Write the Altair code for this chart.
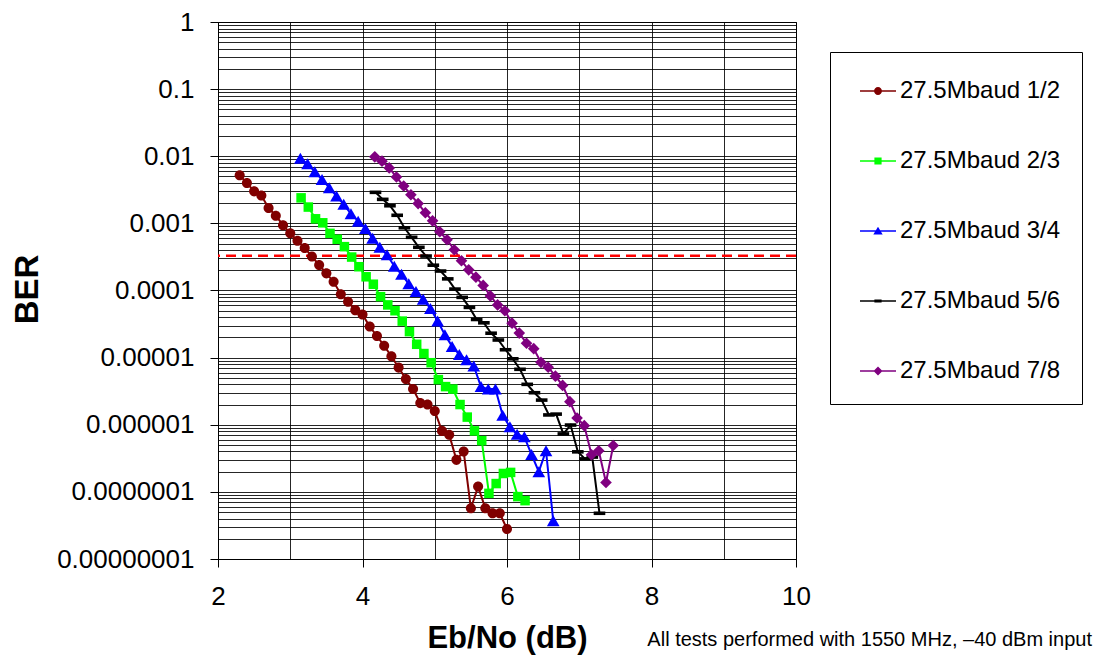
import altair as alt
import pandas as pd

FONT = "Liberation Sans"

series_names = ["27.5Mbaud 1/2", "27.5Mbaud 2/3", "27.5Mbaud 3/4", "27.5Mbaud 5/6", "27.5Mbaud 7/8"]
series_colors = ["#800000", "#00FF00", "#0000FF", "#000000", "#800080"]

ebno_12 = [2.3, 2.4, 2.5, 2.6, 2.7, 2.8, 2.9, 3.0, 3.1, 3.2, 3.3, 3.4, 3.5, 3.6, 3.7, 3.8, 3.9, 4.0, 4.1,
           4.2, 4.3, 4.4, 4.5, 4.6, 4.7, 4.8, 4.9, 5.0, 5.1, 5.2, 5.3, 5.4, 5.5, 5.6, 5.7, 5.8, 5.9, 6.0]
ber_12 = [5.2e-3, 4.0e-3, 3.0e-3, 2.6e-3, 1.7e-3, 1.3e-3, 9.4e-4, 7.1e-4, 5.5e-4, 4.3e-4,
          3.2e-4, 2.4e-4, 1.8e-4, 1.35e-4, 8.8e-5, 6.8e-5, 5.1e-5, 4.4e-5, 2.9e-5, 2.1e-5,
          1.5e-5, 1.05e-5, 7.1e-6, 4.8e-6, 3.4e-6, 2.1e-6, 2.0e-6, 1.6e-6, 8.1e-7, 7.1e-7,
          3.0e-7, 4.0e-7, 5.7e-8, 1.2e-7, 5.7e-8, 4.8e-8, 4.8e-8, 2.8e-8]

ebno_23 = [3.15, 3.25, 3.35, 3.45, 3.55, 3.65, 3.75, 3.85, 3.95, 4.05, 4.15, 4.25, 4.35, 4.45, 4.55, 4.65,
           4.75, 4.85, 4.95, 5.05, 5.15, 5.25, 5.35, 5.45, 5.55, 5.65, 5.75, 5.85, 5.95, 6.05, 6.15, 6.25]
ber_23 = [2.4e-3, 1.75e-3, 1.17e-3, 1.02e-3, 7.1e-4, 5.8e-4, 4.5e-4, 3.15e-4, 2.26e-4, 1.6e-4,
          1.24e-4, 8.1e-5, 6.1e-5, 5.0e-5, 3.5e-5, 2.44e-5, 1.58e-5, 1.15e-5, 8.4e-6, 4.7e-6,
          3.7e-6, 3.4e-6, 2.0e-6, 1.3e-6, 8.1e-7, 5.8e-7, 9.5e-8, 1.33e-7, 1.88e-7, 1.95e-7,
          8.5e-8, 7.4e-8]

ebno_34 = [3.14, 3.24, 3.34, 3.44, 3.54, 3.64, 3.74, 3.84, 3.94, 4.04, 4.14, 4.24, 4.34, 4.44, 4.54, 4.64,
           4.74, 4.84, 4.94, 5.04, 5.14, 5.24, 5.34, 5.44, 5.54, 5.64, 5.74, 5.84, 5.94, 6.04, 6.14, 6.24,
           6.34, 6.44, 6.54, 6.64]
ber_34 = [9.3e-3, 7.7e-3, 5.9e-3, 4.5e-3, 3.4e-3, 2.55e-3, 1.92e-3, 1.39e-3, 1.08e-3, 8.4e-4,
          6.0e-4, 4.4e-4, 3.4e-4, 2.3e-4, 1.74e-4, 1.26e-4, 9.7e-5, 7.4e-5, 5.4e-5, 3.5e-5,
          2.2e-5, 1.47e-5, 1.11e-5, 9.3e-6, 7.5e-6, 3.7e-6, 3.4e-6, 3.4e-6, 1.38e-6, 9.3e-7,
          7.2e-7, 6.6e-7, 3.6e-7, 2.0e-7, 4.1e-7, 3.7e-8]

ebno_56 = [4.18, 4.28, 4.38, 4.48, 4.58, 4.68, 4.78, 4.88, 4.98, 5.08, 5.18, 5.28, 5.38, 5.48, 5.58, 5.68,
           5.78, 5.88, 5.98, 6.08, 6.18, 6.28, 6.38, 6.48, 6.58, 6.68, 6.78, 6.88, 6.98, 7.08, 7.18, 7.28]
ber_56 = [2.9e-3, 2.28e-3, 1.83e-3, 1.32e-3, 8.6e-4, 6.2e-4, 4.4e-4, 3.26e-4, 2.38e-4, 1.95e-4,
          1.49e-4, 1.05e-4, 7.9e-5, 5.6e-5, 3.7e-5, 3.3e-5, 2.31e-5, 1.83e-5, 1.31e-5, 9.6e-6,
          6.7e-6, 4.0e-6, 3.0e-6, 2.33e-6, 1.4e-6, 1.44e-6, 7.3e-7, 9.9e-7, 3.95e-7, 3.1e-7,
          3.3e-7, 4.8e-8]

ebno_78 = [4.17, 4.27, 4.37, 4.47, 4.57, 4.67, 4.77, 4.87, 4.97, 5.07, 5.17, 5.27, 5.37, 5.47, 5.57, 5.67,
           5.77, 5.87, 5.97, 6.07, 6.17, 6.27, 6.37, 6.47, 6.57, 6.67, 6.77, 6.87, 6.97, 7.07, 7.17, 7.27,
           7.37, 7.47]
ber_78 = [9.8e-3, 8.45e-3, 6.7e-3, 4.9e-3, 3.6e-3, 2.67e-3, 1.97e-3, 1.44e-3, 1.09e-3, 7.5e-4,
          5.7e-4, 4.05e-4, 2.77e-4, 2.03e-4, 1.58e-4, 1.19e-4, 8.3e-5, 6.1e-5, 5.0e-5, 3.26e-5,
          2.32e-5, 1.64e-5, 1.36e-5, 8.5e-6, 7.2e-6, 5.3e-6, 3.86e-6, 2.21e-6, 1.26e-6, 9.7e-7,
          3.57e-7, 4.1e-7, 1.38e-7, 4.9e-7]

threshold_ber = [3.3e-4]

x_tick_values = [2, 2.5, 3, 3.5, 4, 4.5, 5, 5.5, 6, 6.5, 7, 7.5, 8, 8.5, 9, 9.5, 10]
y_tick_values = [m * 10.0 ** e for e in range(-8, 0) for m in range(1, 10)] + [1.0]

footer_text = "All tests performed with 1550 MHz, \u201340 dBm input"

# marker shapes (custom SVG paths)
point_shapes = [
    "M-0.95,0A0.95,0.95,0,1,1,0.95,0A0.95,0.95,0,1,1,-0.95,0Z",
    "M-0.9,-0.9H0.9V0.9H-0.9Z",
    "M0,-1.04L1.2,1.04H-1.2Z",
    "M-1.1,-0.34H1.1V0.34H-1.1Z",
    "M0,-1.1L1.1,0L0,1.1L-1.1,0Z",
]
LINE = "M-1,-0.045H1V0.045H-1Z "
legend_shapes = [
    LINE + "M-0.22,0A0.22,0.22,0,1,1,0.22,0A0.22,0.22,0,1,1,-0.22,0Z",
    LINE + "M-0.2,-0.2H0.2V0.2H-0.2Z",
    LINE + "M0,-0.24L0.26,0.2H-0.26Z",
    LINE + "M-0.2,-0.08H0.2V0.08H-0.2Z",
    LINE + "M0,-0.25L0.25,0L0,0.25L-0.25,0Z",
]

frames = []
for name, xs, ys in zip(series_names,
                        [ebno_12, ebno_23, ebno_34, ebno_56, ebno_78],
                        [ber_12, ber_23, ber_34, ber_56, ber_78]):
    frames.append(pd.DataFrame({"series": name, "ebno": xs, "ber": ys}))
df = pd.concat(frames, ignore_index=True)

legend_df = pd.DataFrame({"series": series_names, "ebno": [100.0] * 5, "ber": [0.01] * 5})
thr_df = pd.DataFrame({"ber": threshold_ber})
note_df = pd.DataFrame({"note": [footer_text]})

decade_test = "abs(log(datum.value)/LN10 - round(log(datum.value)/LN10)) < 0.0001"

x_enc = alt.X(
    "ebno:Q",
    scale=alt.Scale(domain=[2, 10], nice=False, zero=False),
    axis=alt.Axis(
        values=x_tick_values, format="~g",
        labelExpr="datum.value % 2 == 0 ? datum.label : ''",
        grid=True, gridColor="black", gridOpacity=0.85, gridWidth=1,
        tickSize=8, tickColor="black",
        tickOpacity={"condition": {"test": "datum.value % 2 == 0", "value": 1}, "value": 0},
        domainColor="black", labelFontSize=26, labelFont=FONT, labelColor="black",
        labelPadding=16, labelFlush=False,
        title="Eb/No (dB)", titleFont=FONT, titleFontSize=31, titleFontWeight="bold",
        titleColor="black", titleX=289, titleY=79, titleBaseline="middle", titleAlign="center",
    ),
)
y_enc = alt.Y(
    "ber:Q",
    scale=alt.Scale(type="log", domain=[1e-8, 1], nice=False),
    axis=alt.Axis(
        values=y_tick_values,
        labelExpr="(" + decade_test + ") ? format(datum.value, '.8~f') : ''",
        grid=True, gridColor="black", gridOpacity=0.85, gridWidth=1,
        tickSize=8, tickColor="black",
        tickOpacity={"condition": {"test": decade_test, "value": 1}, "value": 0},
        domainColor="black", labelFontSize=26, labelFont=FONT, labelColor="black",
        labelPadding=16, labelFlush=False,
        title="BER", titleFont=FONT, titleFontSize=33, titleFontWeight="bold",
        titleColor="black", titleX=-191, titleY=267, titleAngle=270,
        titleBaseline="middle", titleAlign="center",
    ),
)

lines = alt.Chart(df).mark_line(strokeWidth=2, clip=True).encode(
    x=x_enc, y=y_enc,
    color=alt.Color("series:N", scale=alt.Scale(domain=series_names, range=series_colors), legend=None),
    order=alt.Order("ebno:Q"),
)

rule = alt.Chart(thr_df).mark_rule(color="#FF0000", strokeWidth=2.5, strokeDash=[10, 6]).encode(
    y=alt.Y("ber:Q")
)

points = alt.Chart(df).mark_point(filled=True, opacity=1, size=112, clip=True).encode(
    x=alt.X("ebno:Q"), y=alt.Y("ber:Q"),
    color=alt.Color("series:N", scale=alt.Scale(domain=series_names, range=series_colors), legend=None),
    shape=alt.Shape("series:N", scale=alt.Scale(domain=series_names, range=point_shapes), legend=None),
)

leg = alt.Legend(
    orient="none", legendX=612, legendY=30, title=None,
    labelFontSize=24, labelFont=FONT, labelColor="black", labelLimit=300, labelOffset=4,
    symbolSize=1296, symbolStrokeWidth=0, symbolOpacity=1, symbolOffset=9,
    rowPadding=40, padding=21, strokeColor="black", fillColor="white",
)
legend_layer = alt.Chart(legend_df).mark_point(filled=True, opacity=1, clip=True).encode(
    x=alt.X("ebno:Q"), y=alt.Y("ber:Q"),
    color=alt.Color("series:N", scale=alt.Scale(domain=series_names, range=series_colors), legend=leg),
    shape=alt.Shape("series:N", scale=alt.Scale(domain=series_names, range=legend_shapes), legend=leg),
)

note = alt.Chart(note_df).mark_text(
    align="right", baseline="middle", fontSize=20, font=FONT, color="black"
).encode(text="note:N", x=alt.value(874), y=alt.value(618))

chart = alt.layer(lines, rule, points, legend_layer, note).resolve_scale(
    color="independent", shape="independent"
).properties(
    width=578, height=537,
    autosize=alt.AutoSizeParams(type="none"),
    padding={"left": 210, "top": 14, "right": 297, "bottom": 97},
    background="white",
).configure_view(stroke="black", strokeWidth=1).configure_legend(strokeWidth=1)

chart.save("out.html", embed_options={"renderer": "svg", "actions": False})
